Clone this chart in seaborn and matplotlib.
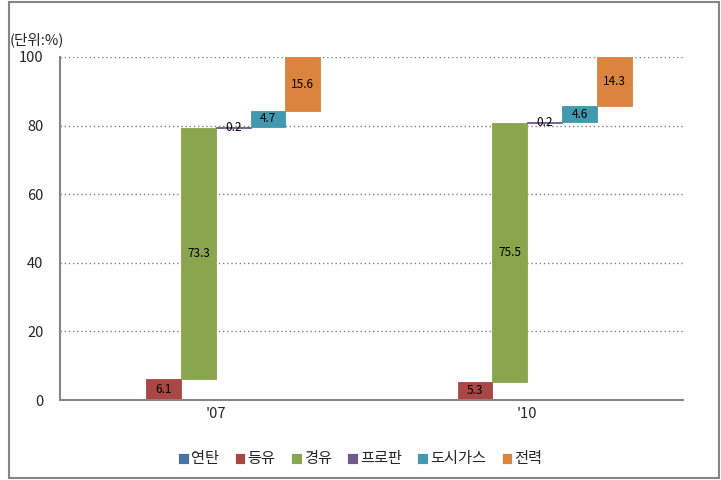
import numpy as np
import pandas as pd
import matplotlib
matplotlib.use("Agg")
import matplotlib.pyplot as plt
from matplotlib.patches import Rectangle
import seaborn as sns

years = ["'07", "'10"]
fuels = ["연탄", "등유", "경유", "프로판", "도시가스", "전력"]
v07 = [0.0, 6.1, 73.3, 0.2, 4.7, 15.6]
v10 = [0.0, 5.3, 75.5, 0.2, 4.6, 14.3]
colors = ["#4572A7", "#AA4643", "#89A54E", "#71588F", "#4198AF", "#DB843D"]
yticks = [0, 20, 40, 60, 80, 100]

rows = []
for yr, vals in zip(years, [v07, v10]):
    for f, v in zip(fuels, vals):
        rows.append({"year": yr, "fuel": f, "value": v})
df = pd.DataFrame(rows)

sns.set_style("white")
plt.rcParams["font.family"] = ["Noto Sans CJK KR", "DejaVu Sans"]

fig = plt.figure(figsize=(7.21, 4.8), dpi=100)
ax = fig.add_axes([60/721, 80/480, (683-60)/721, (400-57)/480])

sns.barplot(data=df, x="year", y="value", hue="fuel", order=years, hue_order=fuels,
            palette=colors, width=0.67, gap=0, dodge=True, ax=ax, errorbar=None,
            saturation=1, linewidth=0.6)

# float each bar on the cumulative total of the preceding fuels (waterfall)
vals_by_year = {yr: vals for yr, vals in zip(years, [v07, v10])}
for i, cont in enumerate(ax.containers):
    for j, patch in enumerate(cont.patches):
        vals = vals_by_year[years[j]]
        bottom = float(np.sum(vals[:i]))
        patch.set_y(bottom)
        patch.set_edgecolor(colors[i])
        v = vals[i]
        if v > 0:
            cx = patch.get_x() + patch.get_width() / 2
            ax.text(cx, bottom + v / 2, f"{v:.1f}", ha="center", va="center",
                    fontsize=8.5, color="black", zorder=5)

handles, labels = ax.get_legend_handles_labels()
if ax.legend_ is not None:
    ax.legend_.remove()
fig.legend(handles, labels, loc="center", bbox_to_anchor=(0.5, 1 - 459/480), ncol=6,
           frameon=False, handlelength=0.7, handleheight=0.7, handletextpad=0.15,
           columnspacing=1.0, fontsize=11)

ax.set_ylim(0, 100)
ax.set_xlim(-0.5, 1.5)
ax.set_yticks(yticks)
ax.set_xlabel("")
ax.set_ylabel("")
ax.yaxis.grid(True, linestyle=(0, (1, 2)), color="#808080", linewidth=1)
ax.set_axisbelow(True)
ax.tick_params(axis="both", length=0, labelsize=10.5)
ax.tick_params(axis="y", pad=12)
ax.tick_params(axis="x", pad=5)
for s in ["top", "right"]:
    ax.spines[s].set_visible(False)
for s in ["left", "bottom"]:
    ax.spines[s].set_color("#868686")
    ax.spines[s].set_linewidth(1.5)

fig.text(10/721, 1 - 40/480, "(단위:%)", ha="left", va="center", fontsize=10.5)

fig.patches.append(Rectangle((9/721, 2/480), 710/721, 476/480, transform=fig.transFigure,
                             fill=False, edgecolor="#868686", linewidth=1.5))

fig.savefig("out.png", dpi=100)
